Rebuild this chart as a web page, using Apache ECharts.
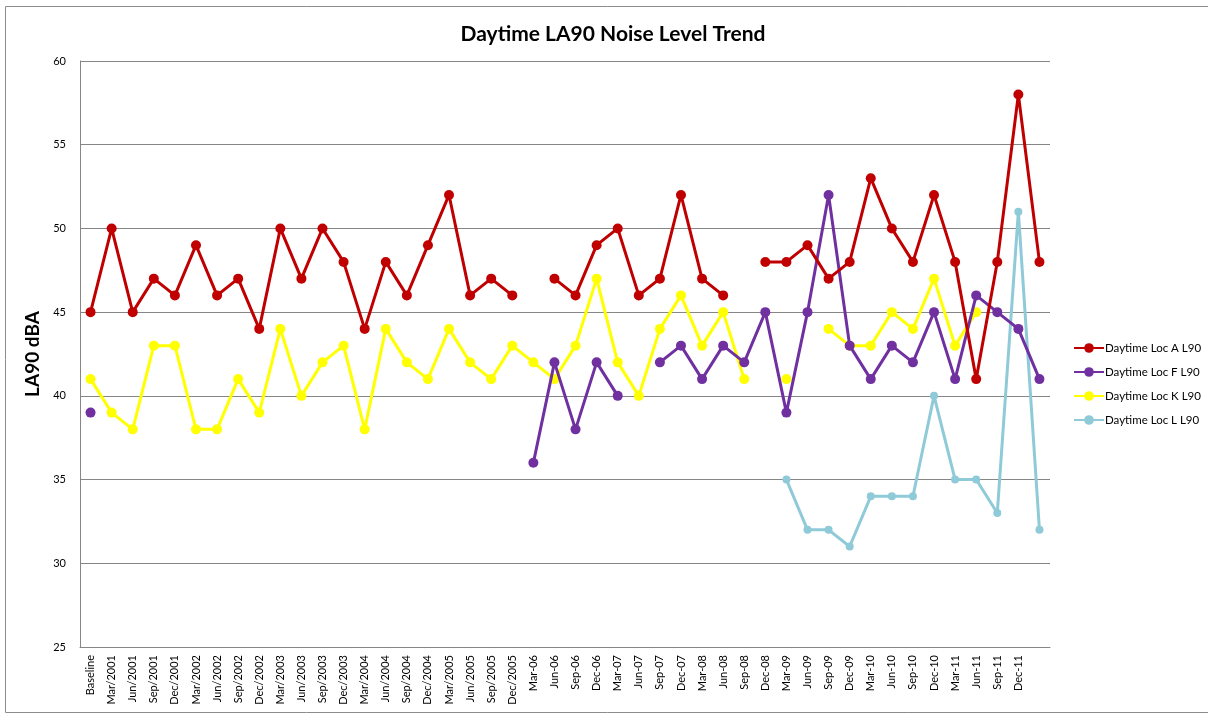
<!DOCTYPE html>
<html>
<head>
<meta charset="utf-8">
<script src="https://cdn.jsdelivr.net/npm/echarts@6/dist/echarts.min.js"></script>
<style>
html,body{margin:0;padding:0;background:#fff;}
#chart{width:1208px;height:716px;}
</style>
</head>
<body>
<div id="chart"></div>
<script>
const categories = ["Baseline","Mar/2001","Jun/2001","Sep/2001","Dec/2001","Mar/2002","Jun/2002","Sep/2002","Dec/2002","Mar/2003","Jun/2003","Sep/2003","Dec/2003","Mar/2004","Jun/2004","Sep/2004","Dec/2004","Mar/2005","Jun/2005","Sep/2005","Dec/2005","Mar-06","Jun-06","Sep-06","Dec-06","Mar-07","Jun-07","Sep-07","Dec-07","Mar-08","Jun-08","Sep-08","Dec-08","Mar-09","Jun-09","Sep-09","Dec-09","Mar-10","Jun-10","Sep-10","Dec-10","Mar-11","Jun-11","Sep-11","Dec-11",""];

const locA = [45,50,45,47,46,49,46,47,44,50,47,50,48,44,48,46,49,52,46,47,46,null,47,46,49,50,46,47,52,47,46,null,48,48,49,47,48,53,50,48,52,48,41,48,58,48];
const locF = [39,null,null,null,null,null,null,null,null,null,null,null,null,null,null,null,null,null,null,null,null,36,42,38,42,40,null,42,43,41,43,42,45,39,45,52,43,41,43,42,45,41,46,45,44,41];
const locK = [41,39,38,43,43,38,38,41,39,44,40,42,43,38,44,42,41,44,42,41,43,42,41,43,47,42,40,44,46,43,45,41,null,41,null,44,43,43,45,44,47,43,45,null,null,null];
const locL = [null,null,null,null,null,null,null,null,null,null,null,null,null,null,null,null,null,null,null,null,null,null,null,null,null,null,null,null,null,null,null,null,null,35,32,32,31,34,34,34,40,35,35,33,51,32];

const seriesNames = ["Daytime Loc A L90","Daytime Loc F L90","Daytime Loc K L90","Daytime Loc L L90"];
const seriesData = [locA, locF, locK, locL];
const colors = ["#C00000","#7030A0","#FFFF00","#8FCAD8"];
const symbolSizes = [10,10,10,8];

const yMin = 25, yMax = 60, yStep = 5;
const FONT = "Lato, 'Open Sans', sans-serif";

const chart = echarts.init(document.getElementById('chart'), null, {renderer:'canvas'});
chart.setOption({
  animation:false,
  backgroundColor:'#fff',
  title:{
    text:'Daytime LA90 Noise Level Trend',
    left:608, top:19, textAlign:'center',
    textStyle:{fontFamily:FONT,fontSize:21,fontWeight:'bold',color:'#000'}
  },
  graphic:[{
    type:'rect', shape:{x:5.5,y:6.5,width:1210,height:706},
    style:{fill:'none',stroke:'#8c8c8c',lineWidth:1}, silent:true
  }],
  legend:{
    orient:'vertical', left:1068, top:337, itemGap:12,
    itemWidth:30, itemHeight:12,
    textStyle:{fontFamily:FONT,fontSize:11.5,color:'#000',padding:[0,0,0,-4]},
    data:seriesNames
  },
  grid:{left:80, right:158, top:61, bottom:69, containLabel:false},
  xAxis:{
    type:'category', data:categories, boundaryGap:true,
    axisLine:{show:true,lineStyle:{color:'#868686',width:1}},
    axisTick:{show:false},
    axisLabel:{rotate:90, interval:0, fontFamily:FONT, fontSize:11, color:'#000', margin:8}
  },
  yAxis:{
    type:'value', min:yMin, max:yMax, interval:yStep,
    name:'LA90 dBA', nameLocation:'middle', nameGap:30, nameRotate:90,
    nameTextStyle:{fontFamily:FONT,fontSize:19,fontWeight:'bold',color:'#000'},
    axisLine:{show:true,lineStyle:{color:'#868686',width:1}},
    axisTick:{show:false},
    axisLabel:{fontFamily:FONT,fontSize:11,color:'#000',margin:14},
    splitLine:{show:true,lineStyle:{color:'#868686',width:1}}
  },
  series: seriesNames.map((n,i)=>({
    name:n, type:'line', data:seriesData[i],
    connectNulls:false, showSymbol:true, symbol:'circle', symbolSize:symbolSizes[i],
    itemStyle:{color:colors[i]},
    lineStyle:{color:colors[i],width:3},
    z: 10-i
  }))
});
</script>
</body>
</html>
